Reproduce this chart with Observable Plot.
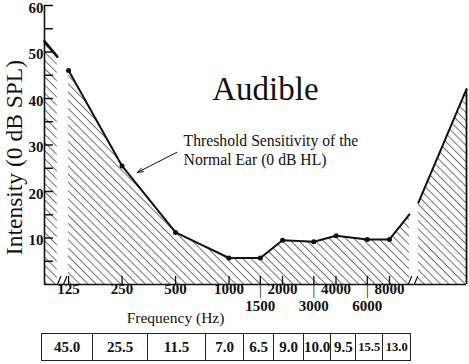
<!DOCTYPE html>
<html>
<head>
<meta charset="utf-8">
<script src="https://cdn.jsdelivr.net/npm/d3@7"></script>
<script src="https://cdn.jsdelivr.net/npm/@observablehq/plot@0.6"></script>
<style>
  html, body { margin: 0; padding: 0; background: #fff; }
  #wrap { position: relative; width: 469px; height: 364px; overflow: hidden; }
  #chart { position: absolute; left: 0; top: 0; }
  table.vals { position: absolute; left: 41px; top: 333px; border-collapse: collapse; table-layout: fixed;
    font-family: "Liberation Serif", "Times New Roman", serif; font-weight: bold; color: #111; }
  table.vals td { border: 1.6px solid #222; height: 27px; padding: 0; text-align: center; font-size: 15px; box-sizing: border-box; }
  table.vals td.small { font-size: 12.5px; }
</style>
</head>
<body>
<div id="wrap"><div id="chart"></div><div id="table"></div></div>
<script>
// ---- data ----
const freqs = [125, 250, 500, 1000, 1500, 2000, 3000, 4000, 6000, 8000];
const thresholds = [46, 25.5, 11.2, 5.7, 5.7, 9.5, 9.2, 10.5, 9.7, 9.7];
const tailFreqs = [10360];            // curve continues past 8000 Hz up to the break
const tailLevels = [15.1];
const lowEdgeFreqs = [91.5, 108];     // segment left of the low-frequency break
const lowEdgeLevels = [52.3, 49];
const highEdgeFreqs = [11640, 21700]; // segment right of the high-frequency break
const highEdgeLevels = [17.6, 42];
const breakFreqs = [116, 10940];
const tableValues = ["45.0", "25.5", "11.5", "7.0", "6.5", "9.0", "10.0", "9.5", "15.5", "13.0"];
const xTicksRow1 = [125, 250, 500, 1000, 2000, 4000, 8000];
const xTicksRow2 = [1500, 3000, 6000];
const yTickLabels = [10, 20, 30, 40, 50, 60];
const yTicksAll = [5, 10, 15, 20, 25, 30, 35, 40, 45, 50, 55, 60];
const arrowFrom = [507, 28.4];
const arrowTo = [305, 24.1];

const serif = "Liberation Serif, Times New Roman, serif";
const mainCurve = freqs.map((f, i) => ({f, v: thresholds[i]}))
  .concat(tailFreqs.map((f, i) => ({f, v: tailLevels[i]})));
const lowEdge = lowEdgeFreqs.map((f, i) => ({f, v: lowEdgeLevels[i]}));
const highEdge = highEdgeFreqs.map((f, i) => ({f, v: highEdgeLevels[i]}));
const points = freqs.map((f, i) => ({f, v: thresholds[i]}));
const xDomain = [lowEdgeFreqs[0], highEdgeFreqs[highEdgeFreqs.length - 1]];
const tickShape = {draw(ctx, l) { ctx.moveTo(0, 0); ctx.lineTo(0, -l); }};
const breakShape = {draw(ctx, l) {
  ctx.moveTo(-5, 0); ctx.lineTo(-2, -l);
  ctx.moveTo(1, 0); ctx.lineTo(4, -l);
}};
const ink = "#111";

const plot = Plot.plot({
  width: 469, height: 332,
  marginLeft: 44, marginRight: 3, marginTop: 5, marginBottom: 48,
  style: {fontFamily: serif, background: "transparent", color: ink, overflow: "visible"},
  x: {type: "log", domain: xDomain, axis: null},
  y: {domain: [0, 60], axis: null},
  marks: [
    Plot.areaY(lowEdge, {x: "f", y: "v", fill: "url(#hatch)"}),
    Plot.areaY(mainCurve, {x: "f", y: "v", fill: "url(#hatch)"}),
    Plot.areaY(highEdge, {x: "f", y: "v", fill: "url(#hatch)"}),
    Plot.line(lowEdge, {x: "f", y: "v", stroke: ink, strokeWidth: 2.6}),
    Plot.line(mainCurve, {x: "f", y: "v", stroke: ink, strokeWidth: 2}),
    Plot.line(highEdge, {x: "f", y: "v", stroke: ink, strokeWidth: 2}),
    Plot.ruleX([highEdge[highEdge.length - 1]], {x: "f", y1: 0, y2: "v", stroke: ink, strokeWidth: 1.8}),
    Plot.dot(points, {x: "f", y: "v", r: 2.5, fill: ink, stroke: "none"}),
    // axis lines
    Plot.ruleY([0], {stroke: ink, strokeWidth: 1.6}),
    Plot.ruleX([xDomain[0]], {y1: 0, y2: 60, stroke: ink, strokeWidth: 1.6}),
    // inward ticks
    Plot.vector(freqs, {x: d => d, y: 0, length: 8, shape: tickShape, anchor: "start", stroke: ink, strokeWidth: 1.3}),
    Plot.vector(yTicksAll, {x: xDomain[0], y: d => d, rotate: 90, length: 8, shape: tickShape, anchor: "start", stroke: ink, strokeWidth: 1.3}),
    // axis break marks
    Plot.vector(breakFreqs, {x: d => d, y: 0, dy: -1, length: 7, shape: breakShape, anchor: "start", stroke: ink, strokeWidth: 1.2}),
    // tick labels
    Plot.axisY(yTickLabels, {anchor: "left", tickSize: 0, tickPadding: 1, dy: 2.5, fontSize: 15, fontWeight: "bold", label: null}),
    Plot.text(xTicksRow1, {x: d => d, frameAnchor: "bottom", dy: 9, text: d => String(d), fontSize: 15, fontWeight: "bold", fill: ink}),
    Plot.text(xTicksRow2, {x: d => d, frameAnchor: "bottom", dy: 26, text: d => String(d), fontSize: 15, fontWeight: "bold", fill: ink}),
    Plot.text(xTicksRow2, {x: d => d, frameAnchor: "bottom", dy: 10, text: () => "|", fontSize: 14, fill: ink}),
    // titles and annotations
    Plot.text(["Intensity (0 dB SPL)"], {x: xDomain[0], y: 27.3, dx: -30, rotate: -90, textAnchor: "middle", fontSize: 23.5, fill: ink}),
    Plot.text(["Frequency (Hz)"], {x: 500, frameAnchor: "bottom", dy: 38, fontSize: 15.5, fill: ink}),
    Plot.text(["Audible"], {x: 1603, y: 41.9, fontSize: 33, fill: ink}),
    Plot.text(["Threshold Sensitivity of the\nNormal Ear (0 dB HL)"], {x: 555, y: 29.0, textAnchor: "start", lineAnchor: "middle", lineHeight: 1.18, fontSize: 15.7, fill: ink}),
    Plot.arrow([{x1: arrowFrom[0], y1: arrowFrom[1], x2: arrowTo[0], y2: arrowTo[1]}], {x1: "x1", y1: "y1", x2: "x2", y2: "y2", stroke: ink, strokeWidth: 1, headLength: 9, headAngle: 40})
  ]
});

// hatch pattern
const defs = d3.select(plot).insert("defs", ":first-child");
const pat = defs.append("pattern").attr("id", "hatch").attr("patternUnits", "userSpaceOnUse")
  .attr("width", 5.8).attr("height", 5.8).attr("patternTransform", "rotate(-45)");
pat.append("line").attr("x1", 0).attr("y1", -1).attr("x2", 0).attr("y2", 7)
  .attr("stroke", "#000").attr("stroke-width", 1.1);
document.getElementById("chart").appendChild(plot);

// table of values
const table = d3.select("#table").append("table").attr("class", "vals");
const colWidths = [51, 55, 58, 38, 30, 30, 26, 25, 27, 28];
table.append("tr").selectAll("td").data(tableValues).join("td")
  .attr("class", (d, i) => i >= 8 ? "small" : null)
  .style("width", (d, i) => colWidths[i] + "px")
  .text(d => d);
</script>
</body>
</html>
